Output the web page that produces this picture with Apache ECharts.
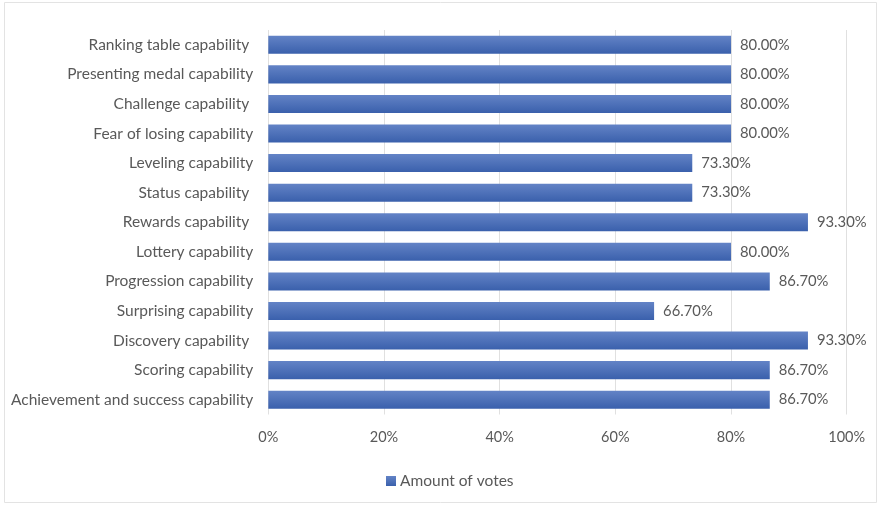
<!DOCTYPE html>
<html>
<head>
<meta charset="utf-8">
<script src="https://cdn.jsdelivr.net/npm/echarts@6/dist/echarts.min.js"></script>
<style>
  html, body { margin: 0; padding: 0; background: #fff; }
  #chart { width: 880px; height: 506px; }
</style>
</head>
<body>
<div id="chart"></div>
<script>
// Capabilities, listed top to bottom
const categories = [
  'Ranking table capability ',
  'Presenting medal capability',
  'Challenge capability ',
  'Fear of losing capability',
  'Leveling capability',
  'Status capability ',
  'Rewards capability ',
  'Lottery capability',
  'Progression capability',
  'Surprising capability',
  'Discovery capability ',
  'Scoring capability',
  'Achievement and success capability'
];
// Share of votes per capability (%)
const votes = [80, 80, 80, 80, 73.3, 73.3, 93.3, 80, 86.7, 66.7, 93.3, 86.7, 86.7];
const seriesName = 'Amount of votes';
const xTicks = [0, 20, 40, 60, 80, 100];

const textColor = '#595959';
const fontFamily = 'Lato, "Open Sans", sans-serif';
const barFill = new echarts.graphic.LinearGradient(0, 0, 0, 1, [
  { offset: 0, color: '#6383c6' },
  { offset: 1, color: '#3a60ac' }
]);

const chart = echarts.init(document.getElementById('chart'), null, { renderer: 'canvas' });
chart.setOption({
  animation: false,
  backgroundColor: '#ffffff',
  textStyle: { fontFamily: fontFamily },
  graphic: [{
    type: 'rect',
    shape: { x: 4.5, y: 2.5, width: 872, height: 500 },
    style: { fill: 'none', stroke: '#e3e3e3', lineWidth: 1 },
    silent: true,
    z: -1
  }],
  grid: { left: 268.3, right: 33.3, top: 30, bottom: 91.5, containLabel: false },
  legend: {
    data: [seriesName],
    bottom: 12,
    left: 381,
    itemWidth: 10,
    itemHeight: 10,
    itemGap: 4,
    icon: 'rect',
    textStyle: { color: textColor, fontSize: 15.5, fontFamily: fontFamily, padding: [0, 0, 0, -1] }
  },
  xAxis: {
    type: 'value',
    min: xTicks[0],
    max: xTicks[xTicks.length - 1],
    interval: 20,
    axisLine: { show: false },
    axisTick: { show: false },
    splitLine: { show: true, lineStyle: { color: '#e0e0e0', width: 1 } },
    axisLabel: {
      color: textColor,
      fontSize: 14.5,
      margin: 15,
      formatter: v => v + '%'
    }
  },
  yAxis: {
    type: 'category',
    data: categories,
    inverse: true,
    axisLine: { show: false },
    axisTick: { show: false },
    axisLabel: { color: textColor, fontSize: 15.5, margin: 15 }
  },
  series: [{
    name: seriesName,
    type: 'bar',
    data: votes,
    barCategoryGap: '39%',
    itemStyle: { color: barFill },
    label: {
      show: true,
      position: 'right',
      distance: 9,
      color: textColor,
      fontSize: 14.8,
      formatter: p => p.value.toFixed(2) + '%'
    }
  }]
});
</script>
</body>
</html>
